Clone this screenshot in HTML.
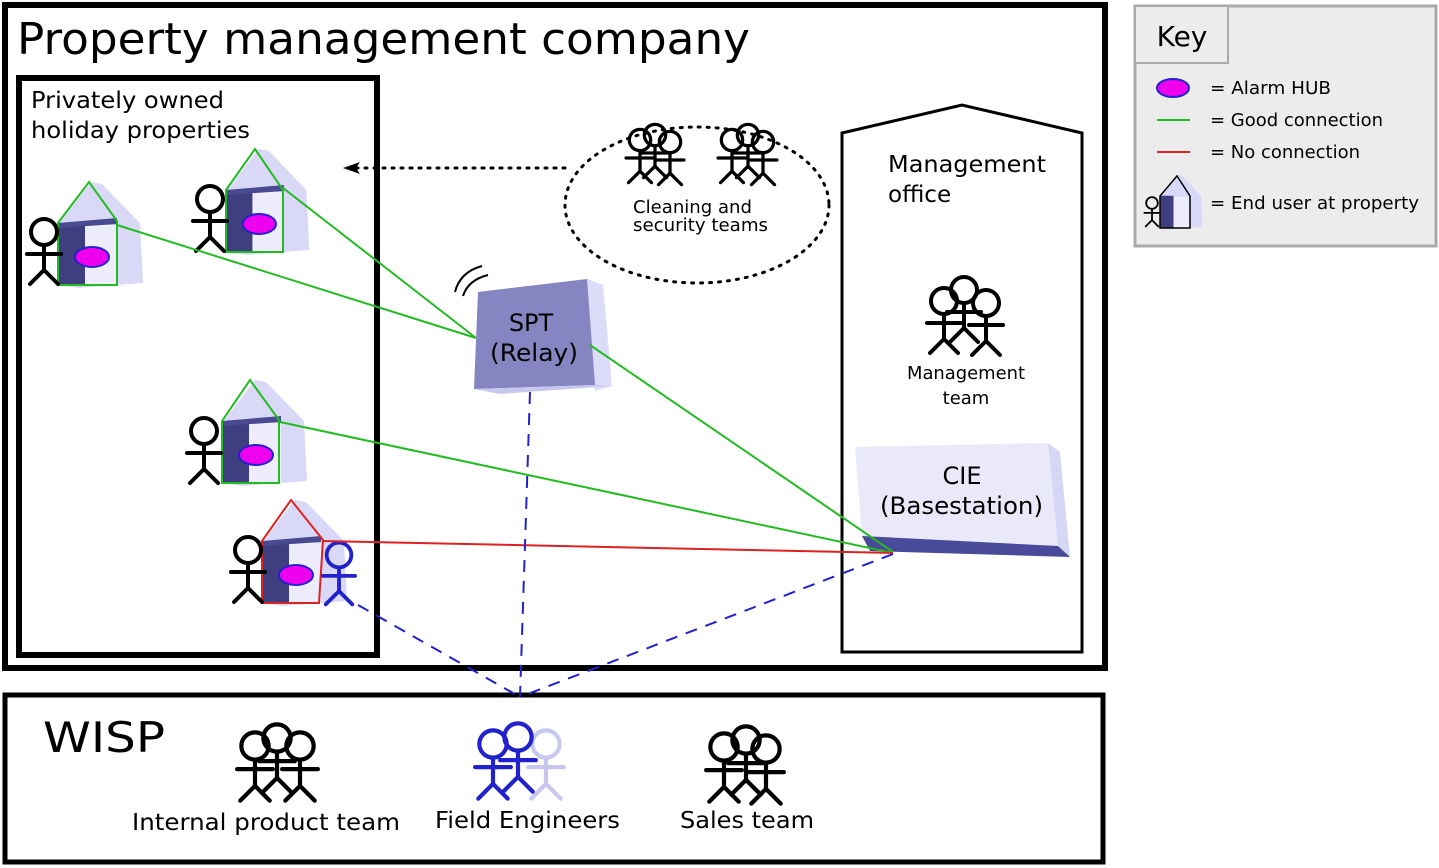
<!DOCTYPE html>
<html><head><meta charset="utf-8"><style>
html,body{margin:0;padding:0;background:#fff;}
svg{display:block;font-family:"DejaVu Sans","Liberation Sans",sans-serif;}
</style></head><body>
<svg width="1439" height="868" viewBox="0 0 1439 868" xmlns="http://www.w3.org/2000/svg">
<defs>
<g id="fig" fill="none" stroke-width="4" stroke-linecap="round">
<circle cx="0" cy="0" r="13"/>
<line x1="0" y1="13" x2="0" y2="38"/>
<line x1="-17" y1="22" x2="17" y2="22"/>
<line x1="0" y1="38" x2="-14" y2="52"/>
<line x1="0" y1="38" x2="14" y2="52"/>
</g>
<g id="house">
<polygon points="33,-103 44,-101 82,-62 85,-2 20,3 0,0 0,-60" fill="#d9d9f7"/>
<rect x="0" y="-62" width="27" height="62" fill="#3f3f80"/>
<rect x="27" y="-60" width="32" height="60" fill="#ececfb"/>
<polygon points="0,-62 59,-67 59,-61 0,-57" fill="#4a4a90"/>
<ellipse cx="34" cy="-28" rx="17" ry="10" fill="#ee00ee" stroke="#2222cc" stroke-width="2"/>
</g>
</defs>

<rect x="5" y="5" width="1100" height="663" fill="none" stroke="#000" stroke-width="6"/>
<rect x="19" y="78" width="358" height="577" fill="none" stroke="#000" stroke-width="6"/>
<rect x="5" y="695" width="1098" height="167" fill="none" stroke="#000" stroke-width="5"/>

<text x="17" y="54" font-size="44" textLength="733" lengthAdjust="spacingAndGlyphs">Property management company</text>
<text x="31" y="108" font-size="23" textLength="193" lengthAdjust="spacingAndGlyphs">Privately owned</text>
<text x="31" y="138" font-size="23" textLength="219" lengthAdjust="spacingAndGlyphs">holiday properties</text>

<polygon points="842,652 842,133 962,105 1082,133 1082,652" fill="none" stroke="#000" stroke-width="3"/>
<text x="888" y="172" font-size="23" textLength="158" lengthAdjust="spacingAndGlyphs">Management</text>
<text x="888" y="202" font-size="23">office</text>

<ellipse cx="697" cy="205" rx="132" ry="78" fill="none" stroke="#000" stroke-width="3" stroke-dasharray="2,7" stroke-linecap="round"/>
<line x1="565" y1="168" x2="355" y2="168" stroke="#000" stroke-width="3" stroke-dasharray="2,7" stroke-linecap="round"/>
<polygon points="343,168 360,162 356,168 360,174" fill="#000"/>
<text x="633" y="213" font-size="18" textLength="119" lengthAdjust="spacingAndGlyphs">Cleaning and</text>
<text x="633" y="231" font-size="18" textLength="135" lengthAdjust="spacingAndGlyphs">security teams</text>
<g stroke="#000"><use href="#fig" transform="translate(640,140) scale(0.82)"/><use href="#fig" transform="translate(655,135) scale(0.82)"/><use href="#fig" transform="translate(670,142) scale(0.82)"/>
<use href="#fig" transform="translate(732,140) scale(0.82)"/><use href="#fig" transform="translate(748,135) scale(0.82)"/><use href="#fig" transform="translate(763,142) scale(0.82)"/></g>

<g stroke="#000"><use href="#fig" transform="translate(944,301) scale(1.0)"/><use href="#fig" transform="translate(964,290) scale(1.0)"/><use href="#fig" transform="translate(986,303) scale(1.0)"/></g>
<text x="907" y="379" font-size="18" textLength="118" lengthAdjust="spacingAndGlyphs">Management</text>
<text x="966" y="404" font-size="18" text-anchor="middle">team</text>

<polygon points="1048,443 1060,452 1070,557 1058,547" fill="#d6d6f5"/>
<polygon points="855,447 1048,443 1058,546 862,536" fill="#e9e9fa"/>
<polygon points="862,536 1058,546 1070,557 870,551" fill="#4a4a9a"/>
<text x="962" y="484" font-size="24" text-anchor="middle">CIE</text>
<text x="880" y="514" font-size="24" textLength="163" lengthAdjust="spacingAndGlyphs">(Basestation)</text>

<polygon points="587,279 603,285 612,386 595,391" fill="#dcdcf8"/>
<polygon points="478,292 587,279 595,385 474,389" fill="#8585c2"/>
<polygon points="474,389 595,385 612,386 500,394" fill="#c8c8ee"/>
<text x="531" y="331" font-size="24" text-anchor="middle">SPT</text>
<text x="490" y="361" font-size="24" textLength="88" lengthAdjust="spacingAndGlyphs">(Relay)</text>
<path d="M455,292 Q460,272 482,266 M463,296 Q468,280 488,275" fill="none" stroke="#000" stroke-width="2"/>

<use href="#house" transform="translate(58,285)"/>
<polygon points="58,285 58,223 89,182 117,221 117,285" fill="none" stroke="#22bb22" stroke-width="2"/>
<use href="#house" transform="translate(226,252) scale(0.98,1)"/>
<polygon points="226,252 226,190 255,149 283,190 283,252" fill="none" stroke="#22bb22" stroke-width="2"/>
<use href="#house" transform="translate(222,483)"/>
<polygon points="222,483 222,421 250,380 279,420 279,483" fill="none" stroke="#22bb22" stroke-width="2"/>
<use href="#house" transform="translate(262,603)"/>
<polygon points="262,603 262,541 291,500 323,540 319,603" fill="none" stroke="#dd2222" stroke-width="2"/>

<g stroke="#000"><use href="#fig" transform="translate(44,232)"/><use href="#fig" transform="translate(210,199)"/><use href="#fig" transform="translate(204,431)"/><use href="#fig" transform="translate(248,550)"/></g>
<g stroke="#2222cc"><use href="#fig" transform="translate(339,555) scale(0.95)"/></g>

<g stroke="#22bb22" stroke-width="2" fill="none">
<line x1="117" y1="225" x2="476" y2="338"/>
<line x1="283" y1="188" x2="476" y2="338"/>
<line x1="590" y1="345" x2="893" y2="552"/>
<line x1="280" y1="422" x2="893" y2="553"/>
</g>
<line x1="323" y1="541" x2="893" y2="553" stroke="#dd2222" stroke-width="2"/>
<g stroke="#2222cc" stroke-width="2" stroke-dasharray="12,9" fill="none">
<line x1="530" y1="392" x2="520" y2="697"/>
<line x1="358" y1="605" x2="520" y2="697"/>
<line x1="893" y1="554" x2="520" y2="697"/>
</g>

<text x="43" y="752" font-size="42" textLength="122" lengthAdjust="spacingAndGlyphs">WISP</text>
<g stroke="#000"><use href="#fig" transform="translate(255,746) scale(1.05)"/><use href="#fig" transform="translate(277,738) scale(1.05)"/><use href="#fig" transform="translate(300,746) scale(1.05)"/></g>
<text x="132" y="830" font-size="23" textLength="268" lengthAdjust="spacingAndGlyphs">Internal product team</text>
<g stroke="#c8c8ee"><use href="#fig" transform="translate(546,744) scale(1.05)"/></g>
<g stroke="#2222cc"><use href="#fig" transform="translate(493,744) scale(1.05)"/><use href="#fig" transform="translate(518,737) scale(1.05)"/></g>
<text x="435" y="828" font-size="23" textLength="185" lengthAdjust="spacingAndGlyphs">Field Engineers</text>
<g stroke="#000"><use href="#fig" transform="translate(724,747) scale(1.05)"/><use href="#fig" transform="translate(746,740) scale(1.05)"/><use href="#fig" transform="translate(766,749) scale(1.05)"/></g>
<text x="680" y="828" font-size="23" textLength="134" lengthAdjust="spacingAndGlyphs">Sales team</text>

<rect x="1135" y="6" width="301" height="240" fill="#ececec" stroke="#aaa" stroke-width="3"/>
<rect x="1135" y="6" width="93" height="57" fill="#ececec" stroke="#aaa" stroke-width="2"/>
<text x="1182" y="46" font-size="28" text-anchor="middle">Key</text>
<ellipse cx="1173" cy="88" rx="16" ry="9" fill="#ee00ee" stroke="#2222cc" stroke-width="2"/>
<line x1="1157" y1="120" x2="1190" y2="120" stroke="#22bb22" stroke-width="2"/>
<line x1="1157" y1="152" x2="1190" y2="152" stroke="#dd2222" stroke-width="2"/>
<text x="1210" y="94" font-size="18" textLength="121" lengthAdjust="spacingAndGlyphs">= Alarm HUB</text>
<text x="1210" y="126" font-size="18" textLength="173" lengthAdjust="spacingAndGlyphs">= Good connection</text>
<text x="1210" y="158" font-size="18" textLength="150" lengthAdjust="spacingAndGlyphs">= No connection</text>
<text x="1210" y="209" font-size="18" textLength="209" lengthAdjust="spacingAndGlyphs">= End user at property</text>
<g transform="translate(1160,228) scale(0.5,0.52)"><polygon points="33,-103 44,-101 82,-62 85,-2 20,3 0,0 0,-60" fill="#d9d9f7"/><rect x="0" y="-62" width="27" height="62" fill="#3f3f80"/><rect x="27" y="-60" width="32" height="60" fill="#ececfb"/></g>
<polygon points="1160,228 1160,196 1177,176 1190,196 1190,228" fill="none" stroke="#000" stroke-width="1.5"/>
<g stroke="#000"><use href="#fig" transform="translate(1152,203) scale(0.45)"/></g>
</svg>
</body></html>
